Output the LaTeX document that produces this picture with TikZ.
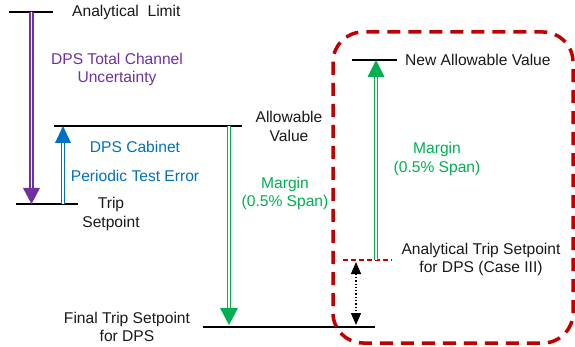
\documentclass[tikz,border=0pt]{standalone}
\usepackage{fontspec}
\setmainfont{Liberation Sans}
\usetikzlibrary{arrows.meta,calc}
\definecolor{cpurple}{RGB}{112,48,160}
\definecolor{cblue}{RGB}{0,112,192}
\definecolor{cgreen}{RGB}{0,176,80}
\definecolor{cred}{RGB}{192,0,0}
\definecolor{ctext}{RGB}{25,25,25}
\begin{document}
\begin{tikzpicture}[x=1pt,y=-1pt,
  lbl/.style={inner sep=0pt, align=center, font=\fontsize{15.6}{18.5}\selectfont, text=ctext},
  level/.style={draw=black, line width=1.5pt},
  shaft/.style={double=white, double distance=1.8pt, line width=1.5pt},
  redbox/.style={draw=cred, line width=3.5pt, dash pattern=on 13pt off 8pt, rounded corners=30pt},
  reddash/.style={draw=cred, line width=1.2pt, dash pattern=on 5pt off 3pt},
  dotarrow/.style={draw=black, line width=1.3pt, dotted, {Triangle[width=10pt,length=12pt]}-{Triangle[width=10pt,length=12pt]}}]
\useasboundingbox (0,0) rectangle (575,347);

% level lines
\coordinate (alL) at (9,12);   \coordinate (alR) at (53,12);
\coordinate (tsL) at (16,204); \coordinate (tsR) at (78,204);
\coordinate (avL) at (54,126); \coordinate (avR) at (242,126);
\coordinate (ftL) at (203,327);\coordinate (ftR) at (375,327);
\coordinate (naL) at (352,60); \coordinate (naR) at (397,60);
\coordinate (atL) at (343,260);\coordinate (atR) at (392,260);
\draw[level] (alL) -- (alR);
\draw[level] (tsL) -- (tsR);
\draw[level] (avL) -- (avR);
\draw[level] (ftL) -- (ftR);
\draw[level] (naL) -- (naR);
\draw[reddash] (atL) -- (atR);

% red dashed box
\draw[redbox] (333,32) rectangle (573,343);

% purple arrow (down)
\coordinate (pA) at (31.5,12); \coordinate (pB) at (31.5,204);
\draw[shaft,draw=cpurple] (pA) -- ($(pB)+(0,-14)$);
\fill[cpurple] (pB) -- ++(-8.5,-16) -- ++(17,0) -- cycle;

% blue arrow (up)
\coordinate (bA) at (63,204); \coordinate (bB) at (63,126);
\draw[shaft,draw=cblue] (bA) -- ($(bB)+(0,14)$);
\fill[cblue] (bB) -- ++(-8,17) -- ++(16,0) -- cycle;

% green arrow (down)
\coordinate (gA) at (229,126); \coordinate (gB) at (229,325);
\draw[shaft,draw=cgreen] (gA) -- ($(gB)+(0,-15)$);
\fill[cgreen] (gB) -- ++(-9,-17) -- ++(18,0) -- cycle;

% green arrow (up)
\coordinate (hA) at (376,260); \coordinate (hB) at (376,60);
\draw[shaft,draw=cgreen] (hA) -- ($(hB)+(0,15)$);
\fill[cgreen] (hB) -- ++(-8.5,17) -- ++(17,0) -- cycle;

% dotted arrow
\coordinate (dA) at (356,262); \coordinate (dB) at (356,325);
\draw[dotarrow] (dA) -- (dB);

% labels
\node[lbl, anchor=west] (al) at (72,12) {Analytical~ Limit};
\node[lbl, text=cpurple] (dtc) at (117,69.5) {DPS Total Channel\\Uncertainty};
\node[lbl, text=cblue] (dc) at (135,147) {DPS Cabinet};
\node[lbl, text=cblue] (pte) at (135,176) {Periodic Test Error};
\node[lbl] (ts) at (111,214) {Trip\\Setpoint};
\node[lbl] (av) at (289,126.5) {Allowable\\Value};
\node[lbl, text=cgreen] (m1) at (285,193.5) {Margin\\(0.5\% Span)};
\node[lbl] (ft) at (127,327) {Final Trip Setpoint\\for DPS};
\node[lbl, anchor=west] (na) at (405,60) {New Allowable Value};
\node[lbl, text=cgreen] (m2) at (437,159) {Margin\\(0.5\% Span)};
\node[lbl] (at) at (481,259.5) {Analytical Trip Setpoint\\for DPS (Case III)};
\end{tikzpicture}
\end{document}
